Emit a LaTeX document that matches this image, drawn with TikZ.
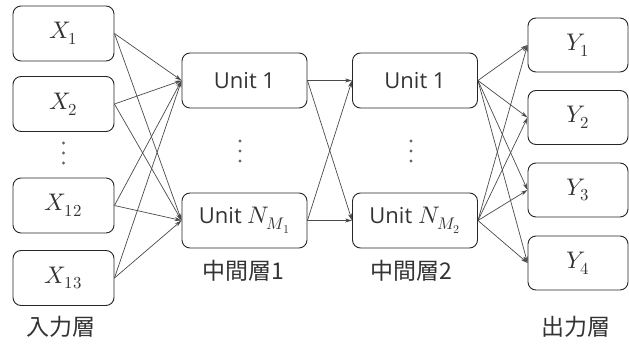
\documentclass[tikz,border=0pt]{standalone}
\usepackage{fontspec}
\usepackage{unicode-math}
\setmainfont{Open Sans}
\setmathfont{Latin Modern Math}
\newfontfamily\jp{Noto Sans CJK JP}
\usetikzlibrary{arrows.meta}
\definecolor{edge}{HTML}{4A4A4A}
\definecolor{ink}{HTML}{333333}
\newcommand{\mth}[1]{{\fontsize{24}{26}\selectfont$#1$}}
\tikzset{
  box/.style={draw=black!85, line width=0.9pt, rounded corners=8pt, minimum height=55pt, inner sep=0pt, text=ink, font=\fontsize{22}{24}\selectfont},
  inbox/.style={box, minimum width=101pt},
  unitbox/.style={box, minimum width=125pt},
  outbox/.style={box, minimum width=100pt, minimum height=54pt},
  dotnode/.style={circle, fill=black!60, minimum size=3.2pt, inner sep=0pt},
  conn/.style={draw=edge, line width=0.7pt, -{Stealth[length=7pt,width=4pt]}},
  lab/.style={font=\jp\fontsize{23}{25}\selectfont, text=ink, inner sep=0pt}
}
\begin{document}
\begin{tikzpicture}[x=1pt,y=-1pt]
\useasboundingbox (0,0) rectangle (629,343);
% input layer
\node[inbox] (x1) at (63.5,33.5) {\mth{X_1}};
\node[inbox] (x2) at (63.5,104) {\mth{X_2}};
\node[inbox] (x12) at (63.5,205.5) {\mth{X_{12}}};
\node[inbox] (x13) at (63.5,278) {\mth{X_{13}}};
\node[dotnode] (ia) at (63.5,143) {};
\node[dotnode] (ib) at (63.5,153) {};
\node[dotnode] (ic) at (63.5,163) {};
\node[lab] (lin) at (61,327) {入力層};
% hidden layer 1
\node[unitbox] (a1) at (244.5,80.5) {Unit 1};
\node[unitbox] (an) at (244.5,220.5) {Unit \mth{N_{M_1}}};
\node[dotnode] (ha) at (240,141) {};
\node[dotnode] (hb) at (240,151) {};
\node[dotnode] (hc) at (240,161) {};
\node[lab] (lh1) at (243,271) {中間層1};
% hidden layer 2
\node[unitbox] (b1) at (415,80.5) {Unit 1};
\node[unitbox] (bn) at (415,220.5) {Unit \mth{N_{M_2}}};
\node[dotnode] (ka) at (411,141) {};
\node[dotnode] (kb) at (411,151) {};
\node[dotnode] (kc) at (411,161) {};
\node[lab] (lh2) at (411,271) {中間層2};
% output layer
\node[outbox] (y1) at (578,45) {\mth{Y_1}};
\node[outbox] (y2) at (578,117.5) {\mth{Y_2}};
\node[outbox] (y3) at (578,190) {\mth{Y_3}};
\node[outbox] (y4) at (578,263) {\mth{Y_4}};
\node[lab] (lout) at (576,327) {出力層};
% connections
\foreach \s in {x1,x2,x12,x13}{
  \foreach \t in {a1,an}{
    \draw[conn] (\s.east) -- (\t.west);
  }
}
\foreach \s in {a1,an}{
  \foreach \t in {b1,bn}{
    \draw[conn] (\s.east) -- (\t.west);
  }
}
\foreach \s in {b1,bn}{
  \foreach \t in {y1,y2,y3,y4}{
    \draw[conn] (\s.east) -- (\t.west);
  }
}
\end{tikzpicture}
\end{document}
